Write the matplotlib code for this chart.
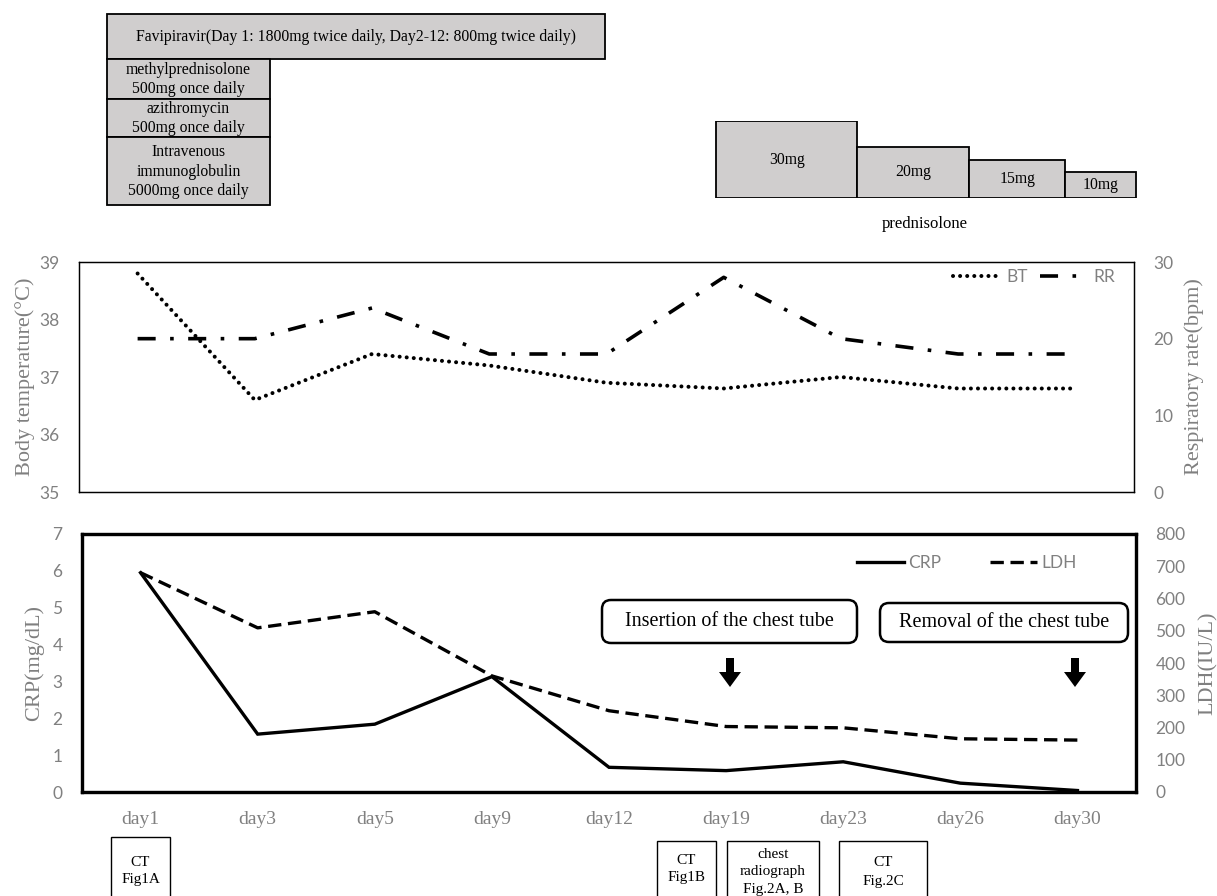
import matplotlib
matplotlib.use('Agg')
import matplotlib.pyplot as plt
from matplotlib.patches import Rectangle, FancyBboxPatch, FancyArrow
import numpy as np

# ---------------- data ----------------
days = ['day1', 'day3', 'day5', 'day9', 'day12', 'day19', 'day23', 'day26', 'day30']
bt = [38.8, 36.6, 37.4, 37.2, 36.9, 36.8, 37.0, 36.8, 36.8]
rr = [20, 20, 24, 18, 18, 28, 20, 18, 18]
crp = [5.95, 1.57, 1.84, 3.13, 0.67, 0.58, 0.82, 0.24, 0.04]
ldh = [680, 509, 559, 360, 252, 203, 199, 165, 161]
bt_ticks = [35, 36, 37, 38, 39]
rr_ticks = [0, 10, 20, 30]
crp_ticks = [0, 1, 2, 3, 4, 5, 6, 7]
ldh_ticks = [0, 100, 200, 300, 400, 500, 600, 700, 800]
pred_doses = [30, 20, 15, 10]
pred_labels = ['30mg', '20mg', '15mg', '10mg']

W, H = 1217, 896
SANS = ['Lato', 'DejaVu Sans']
SERIF = ['Liberation Serif', 'DejaVu Serif']
GRAY = '#808080'
BOXFILL = '#d0cece'

plt.rcParams['font.family'] = SANS

fig = plt.figure(figsize=(W / 100, H / 100), dpi=100)


def rect(x0, y0, x1, y1):
    return [x0 / W, 1 - y1 / H, (x1 - x0) / W, (y1 - y0) / H]


x = np.arange(len(days))

# ---------------- top panel: BT / RR ----------------
ax1 = fig.add_axes(rect(79, 262, 1134, 492))
ax1b = ax1.twinx()
l_bt, = ax1.plot(x, bt, color='black', lw=2.9, linestyle=(0, (0.01, 1.75)),
                 dash_capstyle='round', label='BT')
l_rr, = ax1b.plot(x, rr, color='black', lw=2.6, linestyle=(0, (5, 4, 1, 4)),
                  label='RR')
ax1.set_xlim(-0.5, len(days) - 0.5)
ax1.set_ylim(35, 39)
ax1b.set_ylim(0, 30)
ax1.set_yticks(bt_ticks)
ax1b.set_yticks(rr_ticks)
ax1.set_xticks([])
for a in (ax1, ax1b):
    a.tick_params(length=0, pad=14, labelsize=12.5, labelcolor=GRAY)
    for s in a.spines.values():
        s.set_linewidth(0.9)
        s.set_color('black')
ax1.set_ylabel('Body temperature(°C)', family=SERIF, fontsize=16, color=GRAY)
ax1.yaxis.set_label_coords(-0.042, 0.5)
ax1b.set_ylabel('Respiratory rate(bpm)', family=SERIF, fontsize=16, color=GRAY,
                rotation=90)
ax1b.yaxis.set_label_coords(1.048, 0.5)
ax1b.legend([l_bt, l_rr], ['BT', 'RR'], loc='center', ncol=2,
            bbox_to_anchor=(1034 / W, 1 - 277 / H), bbox_transform=fig.transFigure,
            frameon=False, handlelength=2.75, handletextpad=0.3, columnspacing=0.7,
            prop={'family': SANS, 'size': 12.5}, labelcolor=GRAY)

# ---------------- bottom panel: CRP / LDH ----------------
ax2 = fig.add_axes(rect(82, 534, 1136, 792))
ax2b = ax2.twinx()
l_crp, = ax2.plot(x, crp, color='black', lw=2.4, solid_joinstyle='miter', label='CRP')
l_ldh, = ax2b.plot(x, ldh, color='black', lw=2.4, linestyle=(0, (4, 2)), label='LDH')
ax2.set_xlim(-0.5, len(days) - 0.5)
ax2.set_ylim(0, 7)
ax2b.set_ylim(0, 800)
ax2.set_yticks(crp_ticks)
ax2b.set_yticks(ldh_ticks)
ax2.set_xticks(x)
ax2.set_xticklabels(days, family=SERIF, fontsize=14, color=GRAY)
for a in (ax2, ax2b):
    a.tick_params(axis='y', length=0, pad=14, labelsize=12.5, labelcolor=GRAY)
    for s in a.spines.values():
        s.set_linewidth(2.3)
        s.set_color('black')
ax2.tick_params(axis='x', length=0, pad=14)
ax2.set_ylabel('CRP(mg/dL)', family=SERIF, fontsize=16, color=GRAY)
ax2.yaxis.set_label_coords(-0.036, 0.5)
ax2b.set_ylabel('LDH(IU/L)', family=SERIF, fontsize=16, color=GRAY, rotation=90)
ax2b.yaxis.set_label_coords(1.059, 0.5)
ax2b.legend([l_crp, l_ldh], ['CRP', 'LDH'], loc='center', ncol=2,
            bbox_to_anchor=(967 / W, 1 - 563 / H), bbox_transform=fig.transFigure,
            frameon=False, handlelength=2.7, handletextpad=0.25, columnspacing=2.8,
            prop={'family': SANS, 'size': 12.5}, labelcolor=GRAY)

# ---------------- prednisolone step boxes ----------------
pred_widths_px = [142, 112, 97, 71]
pax = fig.add_axes(rect(715, 198 - 76.5, 1137, 198))
lefts = np.concatenate([[0], np.cumsum(pred_widths_px)[:-1]])
pax.bar(lefts, pred_doses, width=pred_widths_px, align='edge', color=BOXFILL,
        edgecolor='black', linewidth=1.3)
for l, w, d, t in zip(lefts, pred_widths_px, pred_doses, pred_labels):
    pax.text(l + w / 2, d / 2, t, ha='center', va='center', family=SERIF, fontsize=11.3)
pax.set_xlim(-1, sum(pred_widths_px) + 1)
pax.set_ylim(0, 30)
pax.axis('off')

# ---------------- overlay for treatment boxes and annotations ----------------
ov = fig.add_axes([0, 0, 1, 1])
ov.set_xlim(0, W)
ov.set_ylim(H, 0)
ov.axis('off')
ov.patch.set_alpha(0)

treat = [
    (107, 14, 605, 59, 'Favipiravir(Day 1: 1800mg twice daily, Day2-12: 800mg twice daily)'),
    (107, 59, 270, 99, 'methylprednisolone\n500mg once daily'),
    (107, 99, 270, 137, 'azithromycin\n500mg once daily'),
    (107, 137, 270, 205, 'Intravenous\nimmunoglobulin\n5000mg once daily'),
]
for x0, y0, x1, y1, t in treat:
    ov.add_patch(Rectangle((x0, y0), x1 - x0, y1 - y0, facecolor=BOXFILL,
                           edgecolor='black', lw=1.3))
    ov.text((x0 + x1) / 2, (y0 + y1) / 2 + 0.5, t, ha='center', va='center',
            family=SERIF, fontsize=11.3, linespacing=1.27)

ov.text(925, 224, 'prednisolone', ha='center', va='center', family=SERIF, fontsize=12)

# chest tube annotations
for x0, y0, x1, y1, t in [(602, 600, 857, 643, 'Insertion of the chest tube'),
                          (880, 603, 1128, 642, 'Removal of the chest tube')]:
    ov.add_patch(FancyBboxPatch((x0, y0), x1 - x0, y1 - y0,
                                boxstyle='round,pad=0,rounding_size=9',
                                facecolor='white', edgecolor='black', lw=1.8))
    ov.text((x0 + x1) / 2, (y0 + y1) / 2, t, ha='center', va='center',
            family=SERIF, fontsize=14.5)
for ax_x in (730, 1075):
    ov.add_patch(FancyArrow(ax_x, 658, 0, 29, width=8, head_width=22, head_length=15,
                            length_includes_head=True, color='black', lw=0))

# imaging boxes
imgs = [(111, 837, 170, 871, 'CT\nFig1A'),
        (657, 841, 716, 869, 'CT\nFig1B'),
        (727, 841, 819, 872, 'chest\nradiograph\nFig.2A, B'),
        (839, 841, 927, 872, 'CT\nFig.2C')]
for x0, y0, x1, yc, t in imgs:
    ov.add_patch(Rectangle((x0, y0), x1 - x0, 80, facecolor='white',
                           edgecolor='black', lw=1.0))
    ov.text((x0 + x1) / 2, yc, t, ha='center', va='center', family=SERIF,
            fontsize=11, linespacing=1.5)

fig.savefig('out.png', dpi=100)
